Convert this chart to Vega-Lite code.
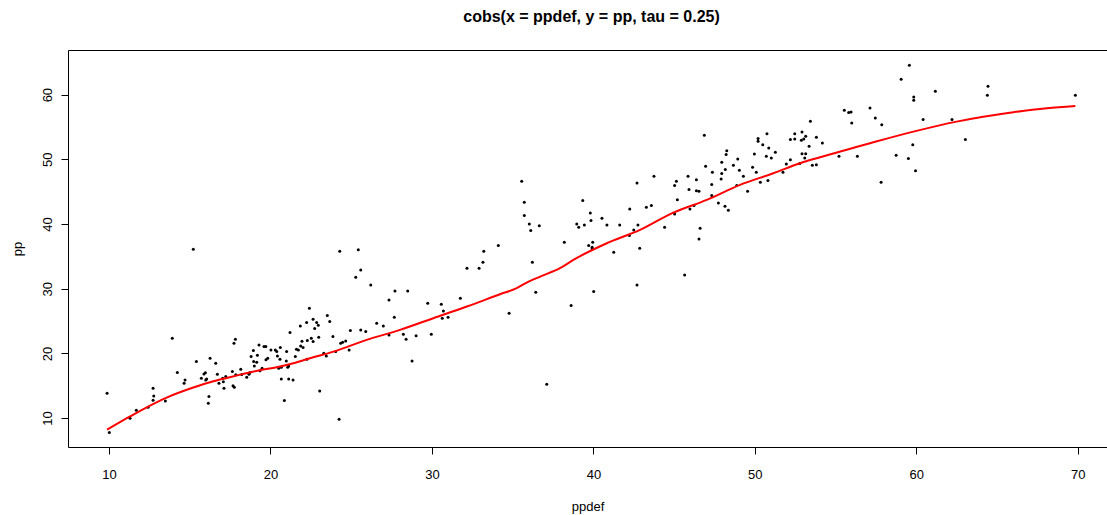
{
  "$schema": "https://vega.github.io/schema/vega-lite/v6.json",
  "width": 1039,
  "height": 397,
  "autosize": {"type": "none"},
  "padding": {"left": 68, "top": 50, "right": 0, "bottom": 68},
  "background": "white",
  "title": {
    "text": "cobs(x = ppdef, y = pp, tau = 0.25)",
    "font": "Liberation Sans",
    "fontSize": 16,
    "fontWeight": "bold",
    "color": "black",
    "anchor": "middle",
    "dx": 4,
    "offset": 25
  },
  "config": {
    "view": {"stroke": "black", "strokeWidth": 1},
    "axis": {
      "domain": false,
      "grid": false,
      "tickColor": "black",
      "tickSize": 7,
      "tickWidth": 1,
      "labelFont": "Liberation Sans",
      "labelFontSize": 13,
      "labelColor": "black",
      "titleFont": "Liberation Sans",
      "titleFontSize": 13,
      "titleFontWeight": "normal",
      "titleColor": "black"
    }
  },
  "datasets": {
    "pts": [
      {"ppdef": 9.88, "pp": 13.85}, {"ppdef": 10.02, "pp": 7.76}, {"ppdef": 11.30, "pp": 9.98}, {"ppdef": 11.69, "pp": 11.22},
      {"ppdef": 12.42, "pp": 11.68}, {"ppdef": 12.73, "pp": 14.62}, {"ppdef": 12.77, "pp": 13.43}, {"ppdef": 12.73, "pp": 12.77},
      {"ppdef": 13.49, "pp": 12.66}, {"ppdef": 13.92, "pp": 22.35}, {"ppdef": 14.23, "pp": 17.03}, {"ppdef": 14.65, "pp": 15.39},
      {"ppdef": 14.71, "pp": 15.90}, {"ppdef": 15.22, "pp": 36.10}, {"ppdef": 15.41, "pp": 18.73}, {"ppdef": 15.72, "pp": 16.17},
      {"ppdef": 15.88, "pp": 16.83}, {"ppdef": 15.97, "pp": 16.99}, {"ppdef": 15.99, "pp": 15.90}, {"ppdef": 16.05, "pp": 16.06},
      {"ppdef": 16.26, "pp": 19.26}, {"ppdef": 16.19, "pp": 13.32}, {"ppdef": 16.15, "pp": 12.30}, {"ppdef": 16.61, "pp": 18.49},
      {"ppdef": 16.71, "pp": 16.79}, {"ppdef": 16.81, "pp": 15.39}, {"ppdef": 17.04, "pp": 16.17}, {"ppdef": 17.08, "pp": 15.60},
      {"ppdef": 17.12, "pp": 14.62}, {"ppdef": 17.23, "pp": 16.42}, {"ppdef": 17.64, "pp": 17.19}, {"ppdef": 17.74, "pp": 21.58},
      {"ppdef": 17.83, "pp": 22.20}, {"ppdef": 17.68, "pp": 14.98}, {"ppdef": 17.76, "pp": 14.77}, {"ppdef": 17.85, "pp": 16.68},
      {"ppdef": 18.16, "pp": 17.56}, {"ppdef": 18.22, "pp": 16.72}, {"ppdef": 18.53, "pp": 16.32}, {"ppdef": 18.67, "pp": 16.79},
      {"ppdef": 18.73, "pp": 17.04}, {"ppdef": 18.80, "pp": 19.51}, {"ppdef": 18.94, "pp": 20.43}, {"ppdef": 18.96, "pp": 18.73},
      {"ppdef": 19.00, "pp": 18.07}, {"ppdef": 19.15, "pp": 18.64}, {"ppdef": 19.19, "pp": 19.72}, {"ppdef": 19.29, "pp": 21.31},
      {"ppdef": 19.35, "pp": 17.30}, {"ppdef": 19.48, "pp": 17.71}, {"ppdef": 19.60, "pp": 21.05}, {"ppdef": 19.71, "pp": 21.05},
      {"ppdef": 19.72, "pp": 19.00}, {"ppdef": 19.83, "pp": 19.26}, {"ppdef": 20.03, "pp": 20.54}, {"ppdef": 20.30, "pp": 20.54},
      {"ppdef": 20.39, "pp": 20.28}, {"ppdef": 20.43, "pp": 19.61}, {"ppdef": 20.51, "pp": 17.71}, {"ppdef": 20.59, "pp": 19.10},
      {"ppdef": 20.61, "pp": 20.90}, {"ppdef": 20.67, "pp": 17.85}, {"ppdef": 20.67, "pp": 16.06}, {"ppdef": 20.86, "pp": 12.71},
      {"ppdef": 20.98, "pp": 18.84}, {"ppdef": 21.00, "pp": 20.28}, {"ppdef": 21.07, "pp": 17.87}, {"ppdef": 21.13, "pp": 18.07},
      {"ppdef": 21.13, "pp": 16.06}, {"ppdef": 21.21, "pp": 23.22}, {"ppdef": 21.40, "pp": 15.90}, {"ppdef": 21.54, "pp": 19.51},
      {"ppdef": 21.61, "pp": 20.65}, {"ppdef": 21.73, "pp": 20.54}, {"ppdef": 21.85, "pp": 24.25}, {"ppdef": 21.87, "pp": 21.16},
      {"ppdef": 21.95, "pp": 21.88}, {"ppdef": 22.02, "pp": 20.90}, {"ppdef": 22.24, "pp": 24.76}, {"ppdef": 22.28, "pp": 21.98},
      {"ppdef": 22.26, "pp": 19.10}, {"ppdef": 22.41, "pp": 26.99}, {"ppdef": 22.53, "pp": 22.35}, {"ppdef": 22.64, "pp": 25.29},
      {"ppdef": 22.64, "pp": 21.82}, {"ppdef": 22.74, "pp": 23.83}, {"ppdef": 22.86, "pp": 24.76}, {"ppdef": 22.96, "pp": 24.36},
      {"ppdef": 22.99, "pp": 22.50}, {"ppdef": 23.05, "pp": 14.20}, {"ppdef": 23.30, "pp": 20.03}, {"ppdef": 23.46, "pp": 19.61},
      {"ppdef": 23.52, "pp": 25.85}, {"ppdef": 23.67, "pp": 24.92}, {"ppdef": 23.87, "pp": 22.60}, {"ppdef": 24.04, "pp": 20.28},
      {"ppdef": 24.25, "pp": 9.83}, {"ppdef": 24.29, "pp": 35.79}, {"ppdef": 24.35, "pp": 21.58}, {"ppdef": 24.47, "pp": 21.73},
      {"ppdef": 24.66, "pp": 21.93}, {"ppdef": 24.87, "pp": 20.54}, {"ppdef": 24.95, "pp": 23.52}, {"ppdef": 25.28, "pp": 31.78},
      {"ppdef": 25.44, "pp": 36.04}, {"ppdef": 25.59, "pp": 32.91}, {"ppdef": 25.59, "pp": 23.63}, {"ppdef": 25.90, "pp": 23.37},
      {"ppdef": 26.21, "pp": 30.59}, {"ppdef": 26.58, "pp": 24.67}, {"ppdef": 26.99, "pp": 24.25}, {"ppdef": 27.34, "pp": 28.27},
      {"ppdef": 27.34, "pp": 22.86}, {"ppdef": 27.67, "pp": 25.60}, {"ppdef": 27.71, "pp": 29.66}, {"ppdef": 28.23, "pp": 22.97},
      {"ppdef": 28.40, "pp": 22.19}, {"ppdef": 28.50, "pp": 29.66}, {"ppdef": 28.77, "pp": 18.84}, {"ppdef": 29.02, "pp": 22.71},
      {"ppdef": 29.74, "pp": 27.76}, {"ppdef": 29.96, "pp": 22.97}, {"ppdef": 30.58, "pp": 27.60}, {"ppdef": 30.64, "pp": 25.44},
      {"ppdef": 30.71, "pp": 26.57}, {"ppdef": 31.00, "pp": 25.60}, {"ppdef": 31.76, "pp": 28.53}, {"ppdef": 32.17, "pp": 33.17},
      {"ppdef": 32.92, "pp": 33.17}, {"ppdef": 33.16, "pp": 34.10}, {"ppdef": 33.21, "pp": 35.79}, {"ppdef": 34.11, "pp": 36.66},
      {"ppdef": 34.78, "pp": 26.21}, {"ppdef": 35.56, "pp": 46.62}, {"ppdef": 35.72, "pp": 43.37}, {"ppdef": 35.72, "pp": 41.30},
      {"ppdef": 36.03, "pp": 40.02}, {"ppdef": 36.12, "pp": 38.98}, {"ppdef": 36.22, "pp": 34.10}, {"ppdef": 36.43, "pp": 29.46},
      {"ppdef": 36.65, "pp": 39.75}, {"ppdef": 37.11, "pp": 15.24}, {"ppdef": 38.20, "pp": 37.19}, {"ppdef": 38.62, "pp": 27.39},
      {"ppdef": 38.97, "pp": 40.02}, {"ppdef": 39.09, "pp": 39.50}, {"ppdef": 39.34, "pp": 43.62}, {"ppdef": 39.44, "pp": 39.86},
      {"ppdef": 39.71, "pp": 36.66}, {"ppdef": 39.81, "pp": 41.72}, {"ppdef": 39.85, "pp": 40.53}, {"ppdef": 39.92, "pp": 36.41},
      {"ppdef": 39.92, "pp": 36.15}, {"ppdef": 39.96, "pp": 37.19}, {"ppdef": 40.02, "pp": 29.55}, {"ppdef": 40.53, "pp": 40.89},
      {"ppdef": 40.84, "pp": 39.86}, {"ppdef": 41.26, "pp": 35.64}, {"ppdef": 41.63, "pp": 39.86}, {"ppdef": 42.25, "pp": 42.34},
      {"ppdef": 42.23, "pp": 38.21}, {"ppdef": 42.50, "pp": 39.09}, {"ppdef": 42.70, "pp": 46.35}, {"ppdef": 42.70, "pp": 30.59},
      {"ppdef": 42.76, "pp": 39.86}, {"ppdef": 42.87, "pp": 36.26}, {"ppdef": 43.28, "pp": 42.60}, {"ppdef": 43.59, "pp": 42.85},
      {"ppdef": 43.75, "pp": 47.39}, {"ppdef": 44.41, "pp": 39.50}, {"ppdef": 45.03, "pp": 45.94}, {"ppdef": 45.14, "pp": 46.62},
      {"ppdef": 45.03, "pp": 41.56}, {"ppdef": 45.20, "pp": 43.77}, {"ppdef": 45.65, "pp": 32.13}, {"ppdef": 45.86, "pp": 47.39},
      {"ppdef": 45.92, "pp": 45.32}, {"ppdef": 45.98, "pp": 42.34}, {"ppdef": 46.23, "pp": 42.85}, {"ppdef": 46.38, "pp": 46.86},
      {"ppdef": 46.38, "pp": 45.16}, {"ppdef": 46.54, "pp": 45.07}, {"ppdef": 46.61, "pp": 39.35}, {"ppdef": 46.54, "pp": 37.70},
      {"ppdef": 46.87, "pp": 53.72}, {"ppdef": 46.95, "pp": 48.93}, {"ppdef": 47.33, "pp": 46.09}, {"ppdef": 47.33, "pp": 44.39},
      {"ppdef": 47.37, "pp": 48.00}, {"ppdef": 47.74, "pp": 43.26}, {"ppdef": 47.91, "pp": 46.97}, {"ppdef": 47.95, "pp": 47.79},
      {"ppdef": 47.95, "pp": 49.55}, {"ppdef": 48.15, "pp": 42.75}, {"ppdef": 48.17, "pp": 48.41}, {"ppdef": 48.22, "pp": 50.73},
      {"ppdef": 48.26, "pp": 51.34}, {"ppdef": 48.36, "pp": 42.13}, {"ppdef": 48.67, "pp": 49.09}, {"ppdef": 48.88, "pp": 45.94},
      {"ppdef": 48.94, "pp": 50.06}, {"ppdef": 49.04, "pp": 48.32}, {"ppdef": 49.29, "pp": 47.39}, {"ppdef": 49.55, "pp": 45.07},
      {"ppdef": 49.86, "pp": 48.78}, {"ppdef": 49.97, "pp": 50.83}, {"ppdef": 50.09, "pp": 48.00}, {"ppdef": 50.20, "pp": 53.20},
      {"ppdef": 50.20, "pp": 52.80}, {"ppdef": 50.34, "pp": 46.46}, {"ppdef": 50.49, "pp": 52.27}, {"ppdef": 50.75, "pp": 53.97},
      {"ppdef": 50.71, "pp": 50.48}, {"ppdef": 50.81, "pp": 46.71}, {"ppdef": 50.86, "pp": 51.76}, {"ppdef": 51.02, "pp": 50.22},
      {"ppdef": 51.27, "pp": 51.10}, {"ppdef": 51.74, "pp": 48.00}, {"ppdef": 51.95, "pp": 49.29}, {"ppdef": 52.20, "pp": 53.05},
      {"ppdef": 52.20, "pp": 49.95}, {"ppdef": 52.47, "pp": 53.97}, {"ppdef": 52.47, "pp": 53.15}, {"ppdef": 52.78, "pp": 49.34},
      {"ppdef": 52.92, "pp": 54.24}, {"ppdef": 52.88, "pp": 52.95}, {"ppdef": 53.03, "pp": 53.15}, {"ppdef": 53.15, "pp": 53.57},
      {"ppdef": 52.92, "pp": 50.88}, {"ppdef": 53.15, "pp": 50.88}, {"ppdef": 53.09, "pp": 50.22}, {"ppdef": 53.36, "pp": 52.02},
      {"ppdef": 53.44, "pp": 55.89}, {"ppdef": 53.56, "pp": 49.09}, {"ppdef": 53.81, "pp": 49.18}, {"ppdef": 53.81, "pp": 53.42},
      {"ppdef": 54.18, "pp": 52.53}, {"ppdef": 55.21, "pp": 50.48}, {"ppdef": 55.54, "pp": 57.59}, {"ppdef": 55.81, "pp": 57.22},
      {"ppdef": 55.96, "pp": 57.33}, {"ppdef": 56.00, "pp": 55.63}, {"ppdef": 56.35, "pp": 50.48}, {"ppdef": 57.13, "pp": 57.94},
      {"ppdef": 57.46, "pp": 56.40}, {"ppdef": 57.86, "pp": 55.36}, {"ppdef": 57.82, "pp": 46.46}, {"ppdef": 58.75, "pp": 50.63},
      {"ppdef": 59.06, "pp": 62.38}, {"ppdef": 59.57, "pp": 64.54}, {"ppdef": 59.51, "pp": 50.11}, {"ppdef": 59.78, "pp": 52.27},
      {"ppdef": 59.84, "pp": 59.64}, {"ppdef": 59.84, "pp": 59.13}, {"ppdef": 59.95, "pp": 48.25}, {"ppdef": 60.42, "pp": 56.14},
      {"ppdef": 61.18, "pp": 60.53}, {"ppdef": 62.21, "pp": 56.14}, {"ppdef": 63.04, "pp": 53.05}, {"ppdef": 64.40, "pp": 59.91},
      {"ppdef": 64.44, "pp": 61.30}, {"ppdef": 69.85, "pp": 59.91}
    ],
    "fit": [
      {"ppdef": 9.88, "pp": 8.2}, {"ppdef": 11.3, "pp": 10.25}, {"ppdef": 12.42, "pp": 11.78}, {"ppdef": 13.57, "pp": 13.17},
      {"ppdef": 15.22, "pp": 14.72}, {"ppdef": 16.26, "pp": 15.55}, {"ppdef": 17.29, "pp": 16.21}, {"ppdef": 18.32, "pp": 16.83},
      {"ppdef": 19.35, "pp": 17.4}, {"ppdef": 20.39, "pp": 17.87}, {"ppdef": 21.42, "pp": 18.49}, {"ppdef": 22.45, "pp": 19.26},
      {"ppdef": 23.9, "pp": 20.28}, {"ppdef": 25.96, "pp": 22.09}, {"ppdef": 28.02, "pp": 23.63}, {"ppdef": 30.09, "pp": 25.44},
      {"ppdef": 32.16, "pp": 27.24}, {"ppdef": 34.22, "pp": 29.15}, {"ppdef": 35.25, "pp": 30.08}, {"ppdef": 35.87, "pp": 30.94},
      {"ppdef": 36.7, "pp": 31.87}, {"ppdef": 37.93, "pp": 33.17}, {"ppdef": 38.76, "pp": 34.45}, {"ppdef": 40.83, "pp": 37.03},
      {"ppdef": 42.89, "pp": 39.09}, {"ppdef": 44.95, "pp": 41.76}, {"ppdef": 47.02, "pp": 43.73}, {"ppdef": 49.08, "pp": 46.04},
      {"ppdef": 51.15, "pp": 47.85}, {"ppdef": 52.8, "pp": 49.4}, {"ppdef": 54.03, "pp": 50.32}, {"ppdef": 57.13, "pp": 52.49},
      {"ppdef": 59.82, "pp": 54.28}, {"ppdef": 62.5, "pp": 55.83}, {"ppdef": 66.01, "pp": 57.28}, {"ppdef": 68.08, "pp": 57.9},
      {"ppdef": 69.85, "pp": 58.25}
    ]
  },
  "encoding": {
    "x": {
      "field": "ppdef", "type": "quantitative",
      "scale": {"domain": [7.46, 71.81], "nice": false, "zero": false},
      "axis": {"values": [10, 20, 30, 40, 50, 60, 70], "title": "ppdef", "labelPadding": 14, "labelBaseline": "top", "titleY": 59, "titleBaseline": "middle"}
    },
    "y": {
      "field": "pp", "type": "quantitative",
      "scale": {"domain": [5.53, 66.9], "nice": false, "zero": false},
      "axis": {"values": [10, 20, 30, 40, 50, 60], "title": "pp", "labelAngle": 270, "labelAlign": "center", "labelBaseline": "bottom", "labelPadding": 7, "titleAngle": 270, "titleX": -51, "titleBaseline": "middle"}
    }
  },
  "layer": [
    {
      "data": {"name": "pts"},
      "mark": {"type": "circle", "size": 9, "color": "black", "opacity": 1}
    },
    {
      "data": {"name": "fit"},
      "mark": {"type": "line", "color": "#FF0000", "strokeWidth": 2, "interpolate": "monotone"}
    }
  ]
}
